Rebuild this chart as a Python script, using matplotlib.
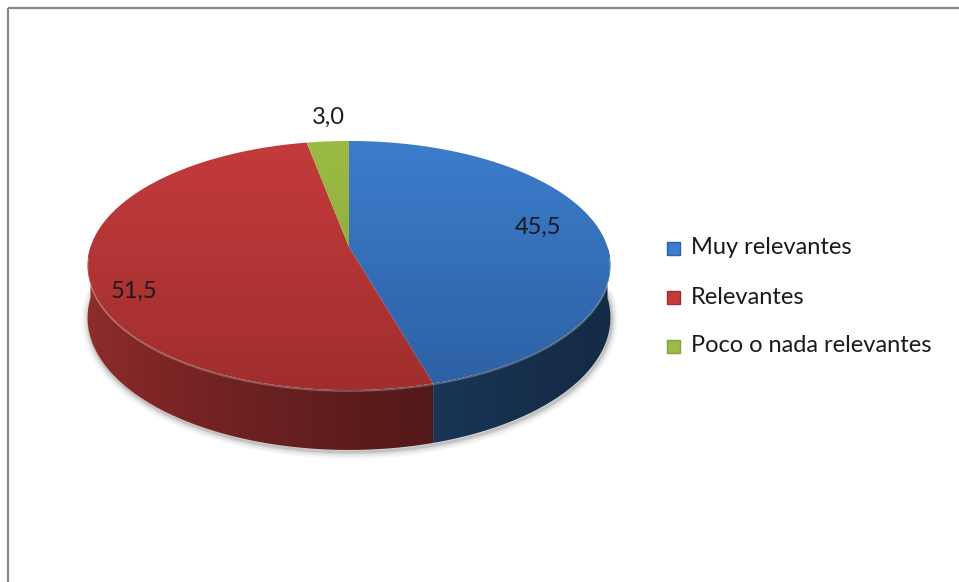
import numpy as np
import matplotlib
matplotlib.use("Agg")
import matplotlib.pyplot as plt
from matplotlib.patches import Polygon, Rectangle
from matplotlib.colors import to_rgb

categories = ["Muy relevantes", "Relevantes", "Poco o nada relevantes"]
values = [45.5, 51.5, 3.0]
top_colors = ["#3c7dcc", "#c43b3b", "#9bbb45"]
low_colors = ["#2d60a4", "#a02e2e", "#86a23a"]

# label placement along each slice's mid angle (radius factor, nudges in px)
label_r = [0.75, 0.83, 1.22]
label_dx = [0, 0, 5]
label_dy = [-7, 20, -4]

W, H = 959, 582
cx, cy = 349, 247
rx, ry = 258.5, 121.8
persp = 0.1486
depth = 51

plt.rcParams["font.family"] = ["Lato", "DejaVu Sans"]


def project(theta, r=1.0):
    # theta in degrees clockwise from 12 o'clock, Z grows toward the viewer
    t = np.radians(theta)
    X = r * np.sin(t)
    Z = -r * np.cos(t)
    s = 1.0 / (1.0 - persp * Z)
    return cx + rx * X * s, cy + ry * Z * s


def drop(theta):
    Z = -np.cos(np.radians(theta))
    return depth / (1.0 - persp * Z)


def side_shade(theta):
    # light comes from the left, the right-hand side falls into shadow
    s = np.sin(np.radians(theta))
    return 0.34 + 0.40 * ((1 - s) / 2) ** 1.5


fig = plt.figure(figsize=(W / 100, H / 100), dpi=100)
ax = fig.add_axes([0, 0, 1, 1])
ax.set_xlim(0, W)
ax.set_ylim(H, 0)
ax.axis("off")

total = sum(values)
bounds = np.concatenate([[0], np.cumsum(values) / total * 360])

# soft shadow under the front rim
th = np.linspace(88, 272, 200)
sx, sy = project(th)
sy = sy + drop(th) + 2
for lw, a in [(10, 0.03), (7, 0.05), (4, 0.07), (2, 0.10)]:
    ax.plot(sx + 1, sy, color="black", lw=lw, alpha=a, solid_capstyle="round", zorder=1)

# shade of the wall as a function of screen x
th_front = np.linspace(270, 90, 400)
xf, _ = project(th_front)
shade_f = side_shade(th_front)

# front side walls
for i, c in enumerate(top_colors):
    a, b = max(bounds[i], 90), min(bounds[i + 1], 270)
    if a >= b:
        continue
    base = np.array(to_rgb(c))
    t = np.linspace(a, b, 200)
    x, y = project(t)
    d = drop(t)
    outline = np.column_stack([np.r_[x, x[::-1]], np.r_[y, (y + d)[::-1]]])
    wall = Polygon(outline, closed=True, facecolor="none", edgecolor="none")
    ax.add_patch(wall)
    x0, x1 = x.min() - 2, x.max() + 2
    cols = np.linspace(x0, x1, 300)
    sh = np.interp(cols, xf, shade_f)
    img = np.clip(sh[None, :, None] * base[None, None, :], 0, 1)
    im = ax.imshow(img, extent=(x0, x1, (y + d).max() + 2, y.min() - 2),
                   aspect="auto", origin="upper", zorder=2, interpolation="bilinear")
    im.set_clip_path(wall)

# top faces with a vertical gradient
y_top = cy - ry / (1 + persp) - 2
y_bot = cy + ry / (1 - persp) + 2
g = np.linspace(0, 1, 256)[:, None, None]
for i, c in enumerate(top_colors):
    t = np.linspace(bounds[i], bounds[i + 1], max(int(values[i] * 8), 4))
    x, y = project(t)
    poly = Polygon(np.column_stack([np.r_[cx, x], np.r_[cy, y]]), closed=True,
                   facecolor="none", edgecolor="none")
    ax.add_patch(poly)
    img = (1 - g) * np.array(to_rgb(c)) + g * np.array(to_rgb(low_colors[i]))
    im = ax.imshow(img, extent=(cx - rx - 5, cx + rx + 5, y_bot, y_top),
                   aspect="auto", origin="upper", zorder=3, interpolation="bilinear")
    im.set_clip_path(poly)

# faint highlight on the front rim
th = np.linspace(95, 265, 200)
hx, hy = project(th)
ax.plot(hx, hy + 1, color="white", lw=1.2, alpha=0.25, zorder=4)

ax.set_xlim(0, W)
ax.set_ylim(H, 0)

# value labels
for i, v in enumerate(values):
    mid = (bounds[i] + bounds[i + 1]) / 2
    lx, ly = project(mid, label_r[i])
    ax.text(lx + label_dx[i], ly + label_dy[i], f"{v:.1f}".replace(".", ","),
            fontsize=17, ha="center", va="center", color="#1a1a1a", zorder=5)

# legend
for i, name in enumerate(categories):
    ly = 248 + 49 * i
    ax.add_patch(Rectangle((667, ly - 6.5), 13, 13, facecolor=top_colors[i],
                           edgecolor=low_colors[i], lw=1, zorder=5))
    ax.text(691, ly, name, fontsize=17, ha="left", va="center",
            color="#1a1a1a", zorder=5)

# chart border
ax.plot([8, 8], [H, 8], color="#8a8a8a", lw=1.6, solid_capstyle="butt")
ax.plot([8, W], [8, 8], color="#8a8a8a", lw=1.6, solid_capstyle="butt")

fig.savefig("out.png", dpi=100)
